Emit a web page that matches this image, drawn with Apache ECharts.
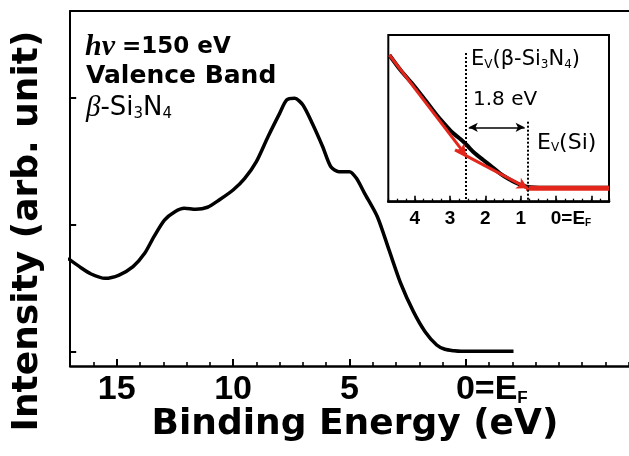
<!DOCTYPE html>
<html><head><meta charset="utf-8">
<script src="https://cdn.jsdelivr.net/npm/echarts@6/dist/echarts.min.js"></script>
<style>html,body{margin:0;padding:0;background:#fff}#c{width:629px;height:456px}</style>
</head><body><div id="c"></div>
<script>
// ---- main spectrum (binding energy in eV, intensity in arb. units) ----
const mainEnergy = [17.1, 16.6, 16.1, 15.5, 14.9, 14.3, 13.8, 13.4, 12.95, 12.5, 12.1, 11.6, 11.1, 10.6, 10.0, 9.5, 9.0, 8.5, 8.0, 7.7, 7.35, 7.0, 6.6, 6.15, 5.8, 5.45, 5.0, 4.7, 4.35, 3.8, 3.3, 2.8, 2.25, 1.75, 1.25, 0.9, 0.5, 0.2, -0.5, -1.2, -2.05];
const mainIntensity = [0.734, 0.668, 0.61, 0.576, 0.602, 0.668, 0.773, 0.905, 1.036, 1.102, 1.129, 1.121, 1.137, 1.194, 1.273, 1.365, 1.497, 1.694, 1.878, 1.983, 1.997, 1.944, 1.8, 1.615, 1.457, 1.418, 1.418, 1.365, 1.247, 1.062, 0.8, 0.537, 0.313, 0.155, 0.05, 0.016, 0.004, 0, 0, 0, 0];
const mainYTicks = [0, 1, 2];
const mainLabelled = [15, 10, 5, 0];

// ---- inset (leading edge) ----
const insetEnergy = [4.72, 4.4, 4.04, 3.7, 3.38, 3.1, 2.91, 2.7, 2.53, 2.3, 2.06, 1.8, 1.59, 1.35, 1.11, 0.95, 0.83, 0.6, 0, -0.8, -1.5];
const insetIntensity = [1.333, 1.18, 1.033, 0.88, 0.733, 0.62, 0.55, 0.49, 0.433, 0.35, 0.283, 0.21, 0.15, 0.095, 0.05, 0.028, 0.016, 0.008, 0.005, 0.005, 0.005];
const insetLabelled = [4, 3, 2, 1, 0];
const fit1Energy = [4.72, 2.55];
const fit1Intensity = [1.333, 0.33];
const fit2Energy = [2.86, 0.8];
const fit2Intensity = [0.385, 0.0];
const baselineEnergy = [0.85, -1.5];
const baselineIntensity = [0.0, 0.0];
const edgeEnergies = [2.55, 0.81];      // Ev(beta-Si3N4), Ev(Si)
const edgeTops = [1.353, 0.666];
const gapArrowEnergy = [2.47, 0.89];
const gapArrowLevel = 0.61;

const RED = '#e3261b';
const zip = (a, b) => a.map((v, i) => [v, b[i]]);

const chart = echarts.init(document.getElementById('c'), null, {renderer: 'canvas'});

const subStyle = (fs, lh) => ({fontSize: fs, fontWeight: 'bold', fontFamily: 'Liberation Sans', color: '#000', verticalAlign: 'bottom', lineHeight: lh});
const hiddenY = (g) => ({gridIndex: g, type: 'value', show: false, min: 0, max: 1});

const option = {
  backgroundColor: '#fff',
  animation: false,
  grid: [
    // main frame: 1 eV = 23.27 px, 0 eV at x = 465.8
    {left: 70.2, top: 11, right: 0.3, bottom: 90, show: false},
    // inset frame: 1 eV = 35.3 px, 0 eV at x = 556
    {left: 388.3, top: 35, right: 20, bottom: 254.3, show: true, borderColor: '#000', borderWidth: 2, backgroundColor: '#fff'},
    // same scale as main, used for the major ticks / labels
    {left: 116.7, top: 11, right: 163.2, bottom: 90, show: false},
    // same scale as inset, used for the major ticks / labels
    {left: 414.8, top: 35, right: 37.7, bottom: 254.3, show: false}
  ],
  xAxis: [
    {
      gridIndex: 0, type: 'value', inverse: true, min: -7, max: 17, interval: 1, position: 'bottom',
      axisLine: {show: true, onZero: false, lineStyle: {color: '#000', width: 2.5}},
      axisTick: {show: true, inside: true, length: 4, lineStyle: {color: '#000', width: 1.6}},
      axisLabel: {show: false}, splitLine: {show: false},
      name: 'Binding Energy (eV)', nameLocation: 'middle', nameGap: 41,
      nameTextStyle: {fontFamily: 'DejaVu Sans', fontWeight: 'bold', fontSize: 36, color: '#000', padding: [0, 0, 0, 11]}
    },
    {
      gridIndex: 1, type: 'value', inverse: true, min: -1.5, max: 4.75, interval: 0.25,
      axisLine: {show: true, onZero: false, lineStyle: {color: '#000', width: 2.5}},
      axisTick: {show: true, inside: true, length: 3, lineStyle: {color: '#000', width: 1.3}},
      axisLabel: {show: false}, splitLine: {show: false}
    },
    {
      gridIndex: 2, type: 'value', inverse: true, min: 0, max: 15, interval: 5,
      axisLine: {show: false, onZero: false},
      axisTick: {show: true, inside: true, length: 7, lineStyle: {color: '#000', width: 2}},
      axisLabel: {
        show: true, margin: 7, color: '#000',
        fontFamily: 'Liberation Sans', fontWeight: 'bold', fontSize: 34,
        formatter: v => mainLabelled.indexOf(v) < 0 ? '' : (v === 0 ? '{p| }{n|0=E}{s|F}' : '{n|' + v + '}'),
        rich: {
          p: {width: 52, fontSize: 34},
          n: {fontSize: 34, fontWeight: 'bold', fontFamily: 'Liberation Sans', color: '#000', lineHeight: 34},
          s: subStyle(17, 14)
        }
      },
      splitLine: {show: false}
    },
    {
      gridIndex: 3, type: 'value', inverse: true, min: -1, max: 4, interval: 1,
      axisLine: {show: false, onZero: false},
      axisTick: {show: true, inside: true, length: 6, lineStyle: {color: '#000', width: 1.6}},
      axisLabel: {
        show: true, margin: 8, color: '#000',
        fontFamily: 'Liberation Sans', fontWeight: 'bold', fontSize: 19,
        formatter: v => insetLabelled.indexOf(v) < 0 ? '' : (v === 0 ? '{p| }{n|0=E}{s|F}' : '{n|' + v + '}'),
        rich: {
          p: {width: 30, fontSize: 19},
          n: {fontSize: 19, fontWeight: 'bold', fontFamily: 'Liberation Sans', color: '#000', lineHeight: 19},
          s: subStyle(10, 8)
        }
      },
      splitLine: {show: false}
    },
    {
      // top frame line of the main plot
      gridIndex: 0, type: 'value', inverse: true, min: -7, max: 17, position: 'top',
      axisLine: {show: true, onZero: false, lineStyle: {color: '#000', width: 2}},
      axisTick: {show: false}, axisLabel: {show: false}, splitLine: {show: false}
    }
  ],
  yAxis: [
    {
      gridIndex: 0, type: 'value', min: -0.116, max: 2.686,
      axisLine: {show: true, onZero: false, lineStyle: {color: '#000', width: 2}},
      axisTick: {show: true, inside: true, length: 6, customValues: mainYTicks, lineStyle: {color: '#000', width: 2}},
      axisLabel: {show: false}, splitLine: {show: false},
      name: 'Intensity (arb. unit)', nameLocation: 'middle', nameRotate: 90, nameGap: 25,
      nameTextStyle: {fontFamily: 'DejaVu Sans', fontWeight: 'bold', fontSize: 36, color: '#000', padding: [0, 85, 0, 0]}
    },
    {
      gridIndex: 1, type: 'value', min: -0.134, max: 1.533,
      axisLine: {show: false, onZero: false}, axisTick: {show: false}, axisLabel: {show: false}, splitLine: {show: false}
    },
    hiddenY(2),
    hiddenY(3)
  ],
  series: [
    {
      type: 'line', xAxisIndex: 0, yAxisIndex: 0, data: zip(mainEnergy, mainIntensity),
      showSymbol: false, smooth: 0.25, lineStyle: {color: '#000', width: 3.5}, silent: true
    },
    {
      type: 'line', xAxisIndex: 1, yAxisIndex: 1, data: zip(insetEnergy, insetIntensity),
      showSymbol: false, smooth: 0.3, lineStyle: {color: '#000', width: 4}, silent: true,
      markLine: {
        silent: true, symbol: ['none', 'none'], label: {show: false},
        lineStyle: {color: '#000', width: 2, type: [2, 2]},
        data: edgeEnergies.map((e, i) => [{coord: [e, edgeTops[i]]}, {coord: [e, -0.134]}])
      }
    },
    {
      type: 'line', xAxisIndex: 1, yAxisIndex: 1, data: zip(baselineEnergy, baselineIntensity),
      showSymbol: false, lineStyle: {color: RED, width: 5}, silent: true,
      markLine: {
        silent: true, symbol: ['none', 'arrow'], symbolSize: [9, 11], label: {show: false},
        lineStyle: {color: RED, width: 3, type: 'solid'},
        data: [
          [{coord: [fit1Energy[0], fit1Intensity[0]]}, {coord: [fit1Energy[1], fit1Intensity[1]]}],
          [{coord: [fit2Energy[0], fit2Intensity[0]]}, {coord: [fit2Energy[1], fit2Intensity[1]]}]
        ]
      }
    },
    {
      type: 'line', xAxisIndex: 1, yAxisIndex: 1, data: [],
      markLine: {
        silent: true, symbol: ['arrow', 'arrow'], symbolSize: [7, 9], label: {show: false},
        lineStyle: {color: '#000', width: 1.5, type: 'solid'},
        data: [[{coord: [gapArrowEnergy[0], gapArrowLevel]}, {coord: [gapArrowEnergy[1], gapArrowLevel]}]]
      }
    }
  ],
  graphic: [
    {type: 'text', x: 85, y: 47, silent: true, style: {
      text: '{i|hv}{b|=150 eV}', verticalAlign: 'middle',
      rich: {
        i: {fontFamily: 'Liberation Serif', fontStyle: 'italic', fontWeight: 'bold', fontSize: 30, color: '#000'},
        b: {fontFamily: 'DejaVu Sans', fontWeight: 'bold', fontSize: 23, color: '#000', padding: [0, 0, 0, 7]}
      }}},
    {type: 'text', x: 86, y: 76, silent: true, style: {
      text: 'Valence Band', verticalAlign: 'middle',
      font: 'bold 25px "DejaVu Sans"', fill: '#000'}},
    {type: 'text', x: 86, y: 108, silent: true, style: {
      text: '{g|β}{r|-Si}{s|3}{r|N}{s|4}', verticalAlign: 'middle',
      rich: {
        g: {fontFamily: 'Liberation Serif', fontStyle: 'italic', fontSize: 29, color: '#000', lineHeight: 28},
        r: {fontFamily: 'DejaVu Sans', fontSize: 26, color: '#000', lineHeight: 28},
        s: {fontFamily: 'DejaVu Sans', fontSize: 15, color: '#000', verticalAlign: 'bottom', lineHeight: 14}
      }}},
    {type: 'text', x: 471, y: 60, silent: true, style: {
      text: '{r|E}{s|V}{r|(β-Si}{s|3}{r|N}{s|4}{r|)}', verticalAlign: 'middle',
      rich: {
        r: {fontFamily: 'DejaVu Sans', fontSize: 21, color: '#000', lineHeight: 22},
        s: {fontFamily: 'DejaVu Sans', fontSize: 12, color: '#000', verticalAlign: 'bottom', lineHeight: 12}
      }}},
    {type: 'text', x: 473, y: 100, silent: true, style: {
      text: '1.8 eV', verticalAlign: 'middle', font: '20px "DejaVu Sans"', fill: '#000'}},
    {type: 'text', x: 537, y: 143, silent: true, style: {
      text: '{r|E}{s|V}{r|(Si)}', verticalAlign: 'middle',
      rich: {
        r: {fontFamily: 'DejaVu Sans', fontSize: 22, color: '#000', lineHeight: 22},
        s: {fontFamily: 'DejaVu Sans', fontSize: 12, color: '#000', verticalAlign: 'bottom', lineHeight: 12}
      }}}
  ]
};
chart.setOption(option);
</script>
</body></html>
